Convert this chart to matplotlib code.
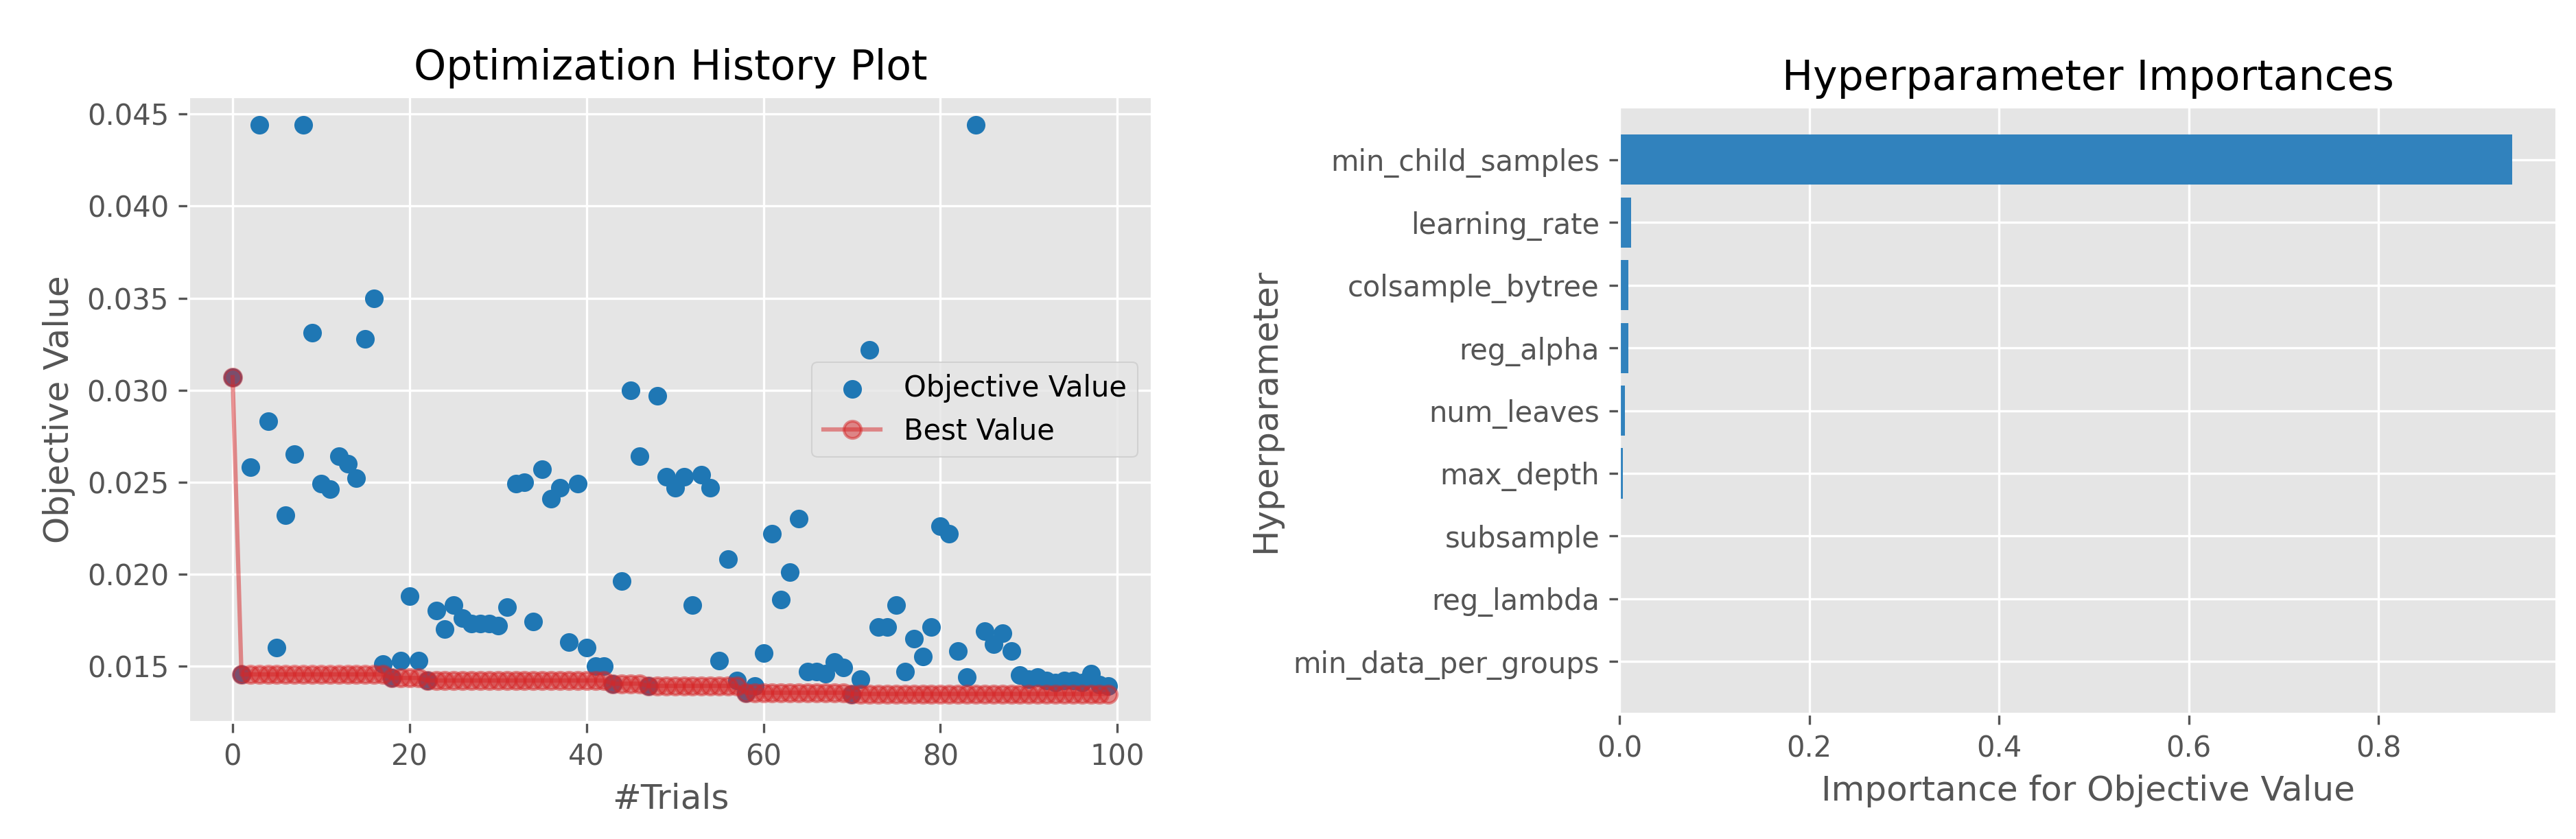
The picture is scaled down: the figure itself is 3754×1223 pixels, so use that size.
import numpy as np
import matplotlib
matplotlib.use('Agg')
import matplotlib.pyplot as plt

# objective value of every trial
trial_numbers = list(range(100))
objective_values = [
    0.0307, 0.01454, 0.0258, 0.0444, 0.0283, 0.0160, 0.0232, 0.0265, 0.0444, 0.0331,
    0.0249, 0.0246, 0.0264, 0.0260, 0.0252, 0.0328, 0.0350, 0.0151, 0.01435, 0.0153,
    0.0188, 0.0153, 0.01421, 0.0180, 0.0170, 0.0183, 0.0176, 0.0173, 0.0173, 0.0173,
    0.0172, 0.0182, 0.0249, 0.0250, 0.0174, 0.0257, 0.0241, 0.0247, 0.0163, 0.0249,
    0.0160, 0.0150, 0.0150, 0.01404, 0.0196, 0.0300, 0.0264, 0.01392, 0.0297, 0.0253,
    0.0247, 0.0253, 0.0183, 0.0254, 0.0247, 0.0153, 0.0208, 0.0142, 0.01355, 0.0139,
    0.0157, 0.0222, 0.0186, 0.0201, 0.0230, 0.0147, 0.0147, 0.0146, 0.0152, 0.0149,
    0.01348, 0.0143, 0.0322, 0.0171, 0.0171, 0.0183, 0.0147, 0.0165, 0.0155, 0.0171,
    0.0226, 0.0222, 0.0158, 0.0144, 0.0444, 0.0169, 0.0162, 0.0168, 0.0158, 0.0145,
    0.0143, 0.0144, 0.0142, 0.0141, 0.0142, 0.0142, 0.0141, 0.0146, 0.0140, 0.0139,
]

# hyperparameter importances, bottom to top
param_names = ['min_data_per_groups', 'reg_lambda', 'subsample', 'max_depth',
               'num_leaves', 'reg_alpha', 'colsample_bytree', 'learning_rate',
               'min_child_samples']
importances = [0.0001, 0.0002, 0.0004, 0.0033, 0.0060, 0.0093, 0.0093, 0.0125,
               0.941]

plt.style.use('ggplot')
tab10 = plt.get_cmap('tab10')
tab20c = plt.get_cmap('tab20c')

W, H, DPI = 3754, 1223, 300
fig = plt.figure(figsize=(W / DPI, H / DPI), dpi=DPI)

# optimization history
ax1 = fig.add_axes([0.0733, 0.1390, 0.3740, 0.7457])
best_values = np.minimum.accumulate(objective_values)
ax1.scatter(trial_numbers, objective_values, color=tab10(0),
            label='Objective Value')
ax1.plot(trial_numbers, best_values, marker='o', color=tab10(3), alpha=0.5,
         label='Best Value')
ax1.set_title('Optimization History Plot')
ax1.set_xlabel('#Trials')
ax1.set_ylabel('Objective Value')
ax1.legend(loc='center right')

# hyperparameter importances
ax2 = fig.add_axes([0.6287, 0.1488, 0.3639, 0.7236])
pos = np.arange(len(param_names))
ax2.barh(pos, importances, align='center', color=tab20c(0),
         tick_label=param_names)
ax2.set_title('Hyperparameter Importances')
ax2.set_xlabel('Importance for Objective Value')
ax2.set_ylabel('Hyperparameter')

fig.savefig('out.png', dpi=DPI)
